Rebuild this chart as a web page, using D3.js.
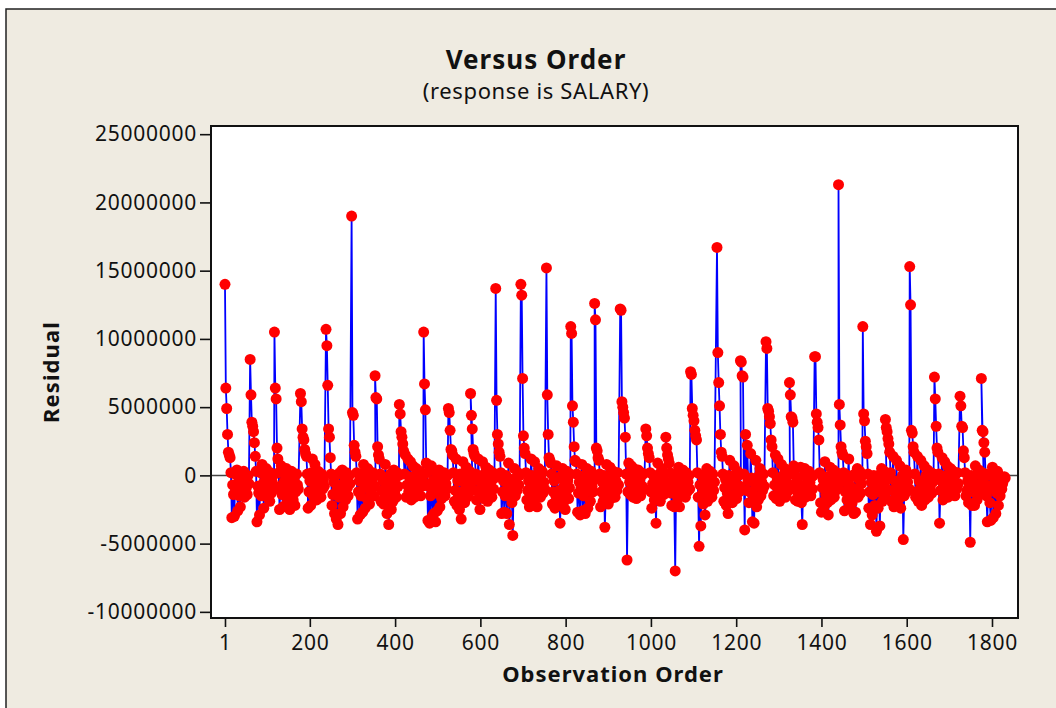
<!DOCTYPE html>
<html><head><meta charset="utf-8">
<script src="https://cdn.jsdelivr.net/npm/d3@7/dist/d3.min.js"></script>
<style>html,body{margin:0;padding:0;background:#fff;overflow:hidden}svg{display:block}text{font-family:"Noto Sans",Tahoma,sans-serif;fill:#111}</style>
</head><body><svg id="c" width="1056" height="708"></svg>
<script>
const yTicks = [25000000,20000000,15000000,10000000,5000000,0,-5000000,-10000000];
const xTicks = [1,200,400,600,800,1000,1200,1400,1600,1800];
const titleText = "Versus Order";
const subtitleText = "(response is SALARY)";
const xLabel = "Observation Order";
const yLabel = "Residual";
// Observation at which each repeating block of the series starts
const blockStarts = [1,60,117,178,238,298,353,410,467,525,577,636,695,755,812,868,928,988,1035,1093,1155,1210,1270,1325,1384,1440,1497,1550,1607,1665,1725,1775];
// Every second observation
const readEvery = 2;
// Residuals, in millions
const blockResiduals = [
[14.0,6.4,4.9,3.0,1.7,1.5,1.3,0.2,-3.1,-0.7,-1.4,-3.0,0.1,-1.1,0.4,-2.6,-0.5,-1.5,-2.3,0.1,-1.2,-0.6,0.3,-1.6,-0.2,-0.9,-1.4,0.0,-0.6],
[8.5,5.9,3.9,3.6,3.2,2.4,1.4,0.3,-3.4,-0.8,-1.3,-2.9,0.2,-1.5,0.8,-0.6,-2.4,0.0,-1.1,0.5,-1.6,-0.3,-0.9,-1.9,0.2,-1.3,-0.5,0.0,-1.0],
[10.5,6.4,5.6,2.0,1.2,0.2,-2.5,-0.8,0.7,-1.4,-2.3,-0.5,0.1,-1.1,0.5,-2.0,-0.4,-1.4,-2.5,0.0,0.3,-0.9,-1.8,-0.3,-2.2,-1.2,0.1,-0.7,-1.0],
[6.0,5.4,3.4,2.8,2.6,1.9,1.6,1.4,0.1,-2.4,-1.2,-0.4,-2.2,0.2,1.2,-1.5,-0.6,0.8,-1.1,-1.8,0.0,0.3,-1.3,-0.5,-1.6,0.1,-1.0,-0.3,-0.8],
[10.7,9.5,6.6,3.4,2.8,1.3,0.1,-2.2,-1.4,-0.5,-2.8,0.0,-3.2,-1.0,-3.6,-1.6,0.2,-2.8,-0.7,0.4,-2.3,-1.3,-0.2,-1.8,0.2,-0.9,-1.5,0.0,-0.6],
[19.0,4.6,4.4,2.2,1.7,1.4,0.2,-3.2,-1.2,-0.4,-2.9,-1.5,0.1,-2.7,0.8,-0.9,-2.4,-0.2,-1.7,0.5,-0.7,-2.1,0.0,-1.3,-0.5,0.2,-1.5,-0.8,0.0],
[7.3,5.7,5.6,2.1,1.5,1.2,0.1,-1.9,-1.1,-0.4,-2.1,-1.4,0.8,-0.2,-2.8,-0.9,-3.6,-1.5,0.1,-2.5,-0.6,-1.9,0.4,-1.2,-0.2,-1.6,0.2,-0.8,0.0],
[5.2,4.5,3.2,2.8,2.3,1.8,0.1,1.5,-1.6,-0.7,1.2,-1.2,-0.1,1.0,-1.8,-0.6,0.7,-1.1,-1.6,0.0,0.5,-1.3,-0.7,0.1,0.3,-1.5,-0.8,-0.2,-0.5],
[10.5,6.7,4.8,0.9,0.2,-3.3,-0.8,-3.5,-1.5,0.7,-3.0,-0.4,-2.8,-1.3,-3.4,0.1,-2.6,-1.0,0.4,-2.3,-0.5,-1.7,0.1,-1.2,0.2,-1.5,-0.6,-1.0,0.0],
[4.9,4.6,3.3,1.9,1.8,1.5,0.2,-1.9,-1.1,1.2,-2.2,-0.4,-1.5,-2.5,0.1,-3.2,-1.2,1.0,-0.5,-2.0,-1.0,0.6,-1.6,0.0,-1.3,0.3,-0.7,-1.1,-0.1],
[6.0,4.4,3.4,1.9,1.6,1.4,0.1,-1.8,-1.1,1.2,-0.4,-2.5,-1.4,0.0,1.0,-1.7,-0.6,-1.2,0.6,-0.8,-1.9,0.1,0.4,-1.3,-0.5,-1.6,0.2,-1.0,-0.2],
[13.7,5.5,3.0,2.3,1.7,1.4,0.2,-2.8,-1.2,-0.4,-2.7,-1.5,0.0,-2.8,-0.9,0.9,-3.6,-1.3,-0.3,-2.0,-4.4,-0.8,0.5,-1.5,-0.2,-1.1,0.2,-0.7,0.0],
[14.0,13.2,7.1,2.9,2.0,1.6,0.2,-1.8,-1.1,-0.4,-2.3,-1.4,1.2,0.0,-2.2,-0.8,1.0,-1.7,-0.3,-2.3,-1.2,0.5,-0.7,-1.6,0.1,0.3,-1.3,-0.5,-1.0],
[15.2,5.9,3.0,1.3,1.1,0.9,0.1,-2.1,-1.2,-0.4,-2.4,-1.5,0.7,-0.2,-2.2,-1.1,-3.5,-1.4,0.0,0.5,-2.0,-0.7,-2.5,-1.3,0.3,-0.4,-1.7,-0.9,0.1],
[10.9,10.4,5.1,3.9,2.1,1.1,1.0,0.1,-2.7,-1.3,-0.5,-2.9,-0.9,0.8,-2.6,-1.5,0.0,-2.8,-0.6,0.5,-2.4,-1.1,0.1,-1.9,0.3,-0.8,-1.2,-0.3,0.0],
[12.6,11.4,2.0,1.8,1.3,1.1,0.1,-2.3,-1.2,-0.5,-1.9,0.0,-3.8,-1.4,0.8,-0.7,-2.1,-0.2,0.6,-1.7,-1.0,0.1,0.3,-0.9,-1.6,-0.4,-1.1,0.2,-0.7],
[12.2,12.1,5.4,5.0,4.6,4.2,2.8,0.1,-6.2,-1.2,0.9,-0.5,-1.4,0.7,-0.2,-1.6,0.5,-1.0,0.0,-1.7,-0.6,0.4,-1.2,-0.3,-1.5,0.2,-0.8,0.1,-1.0],
[3.4,2.9,2.0,1.6,1.3,0.2,-1.2,-2.4,-0.6,0.0,-1.8,-1.1,-3.5,-0.4,0.9,-1.5,0.1,-1.9,-0.8,0.5,-0.3,-1.4,0.1,-1.0,-0.5],
[2.8,2.0,1.5,1.2,0.9,0.2,-1.3,-2.2,-0.6,0.0,-2.3,-7.0,-1.1,-0.3,-1.7,0.6,-2.3,-0.7,0.1,-1.4,0.4,-0.9,-0.2,-1.6,0.2,-1.2,-0.5,0.0,-1.0],
[7.6,7.4,4.9,4.4,4.0,3.3,2.9,2.6,0.2,-1.6,-5.2,-0.7,-3.7,0.0,-1.3,-2.1,-0.4,-2.9,-1.1,0.5,-1.9,-0.2,-1.4,0.3,-0.8,-1.6,0.1,-1.1,-0.5],
[16.7,9.0,6.8,5.1,3.0,1.7,1.4,0.1,-1.9,-0.9,-0.3,-2.2,-1.3,-2.8,0.0,1.1,-1.8,-0.7,-2.0,-0.2,0.7,-1.4,-0.6,-1.7,0.3,0.0,-1.2,-0.8,0.1],
[8.4,8.3,7.3,7.2,0.1,-4.0,3.0,-1.1,2.2,-0.4,-2.0,-1.2,1.6,-0.2,-3.4,-1.4,-3.5,-0.6,1.1,-2.3,-0.8,-1.8,0.0,0.5,-1.5,-0.5,-1.1,0.1,-0.8],
[9.8,9.3,4.9,4.7,4.3,3.8,2.6,2.1,0.2,-1.5,-0.7,1.5,-1.7,-0.2,1.2,-1.1,-1.9,-0.5,0.8,-1.4,0.0,-0.9,0.5,-1.6,-0.4,-1.2,0.2,-0.7,0.1],
[6.8,5.9,4.3,4.2,3.9,0.7,0.1,-1.8,-1.1,-0.4,-1.9,-0.7,-1.4,0.6,-2.0,-3.6,-0.9,0.0,0.5,-1.6,-0.6,0.1,-1.3,0.3,-0.5,-1.5,-0.1,-1.0,0.0],
[8.7,8.7,4.5,3.9,3.5,2.6,0.2,-2.0,-2.7,-0.9,-0.3,-2.3,1.0,-1.4,-0.1,-2.0,-2.9,-0.7,0.6,-1.8,0.0,-1.2,0.4,-1.6,-0.5,-1.1,0.2,-0.3,-0.9],
[21.3,5.2,3.7,2.1,1.7,1.5,0.2,-2.6,-1.2,-0.5,-1.8,0.0,1.2,-2.2,-0.8,-0.1,-2.0,-1.4,-2.8,0.1,-2.7,-1.0,0.5,-1.6,-0.3,0.3,-1.3,-0.6,0.0],
[10.9,4.5,4.0,2.5,2.1,1.6,0.1,-2.4,-1.2,-3.6,-0.5,-2.9,-1.4,0.0,-2.2,-0.9,-4.1,-0.2,-2.4,-1.2,-3.7,0.1,0.5,-1.9,-0.7,0.3,-1.5,-0.4,-1.0],
[4.1,3.5,3.2,2.7,2.3,1.7,0.2,-1.9,-1.1,1.4,-2.3,-0.4,-1.3,1.1,-2.2,-0.6,-1.7,0.7,-2.4,-0.9,0.0,-4.7,-1.5,-0.2,0.4,-1.2,-0.5,0.1,-1.0],
[15.3,12.5,3.3,3.1,2.1,1.7,0.1,-1.6,-1.2,1.4,-1.9,-0.4,-1.0,1.1,-2.2,-0.6,-1.4,0.7,-1.8,0.0,-1.1,0.4,-1.6,-0.3,-0.9,0.2,-1.3,-0.5,0.1],
[7.2,5.6,3.6,2.0,1.7,0.1,-3.5,-1.1,-0.4,1.3,-1.8,-0.7,1.0,-1.4,0.0,0.7,-1.6,-0.5,-1.1,0.5,-0.2,-1.3,0.3,-0.8,-1.5,0.1,-1.0,0.2,-0.6],
[5.8,5.1,3.6,3.5,1.8,1.3,0.2,-1.5,-1.1,-0.4,-2.0,-0.8,-4.9,0.0,-2.2,-0.5,-1.2,-2.2,0.7,-0.9,-1.8,0.1,0.4,-1.4,-0.6,-1.1,0.2,-0.3,-0.9],
[7.1,3.3,3.2,2.4,1.7,0.1,-1.5,-3.4,-0.8,0.0,-2.0,-3.3,-1.0,0.6,-3.1,-0.6,0.1,-2.8,-1.3,0.3,-2.2,-0.7,-1.5,-0.2,-1.0,-0.6,-0.3,-0.1,-0.2]
];

const W = 1056, H = 708;
const plot = {left:211, right:1018, top:126, bottom:618};
const svg = d3.select("#c");

// Build the series from the arrays above
const series = [];
blockResiduals.forEach((vals,b) => vals.forEach((v,i) => series.push({obs: blockStarts[b] + i*readEvery, res: v*1e6})));

const x = d3.scaleLinear().domain([-31.8,1861]).range([plot.left,plot.right]);
const y = d3.scaleLinear().domain([-10.45e6,25.6e6]).range([plot.bottom,plot.top]);

// outer panel
svg.append("rect").attr("x",6).attr("y",9).attr("width",W+20).attr("height",H+20)
  .attr("fill","#efebe1").attr("stroke","#222").attr("stroke-width",1.5);
svg.append("rect").attr("x",plot.left).attr("y",plot.top).attr("width",plot.right-plot.left).attr("height",plot.bottom-plot.top).attr("fill","#fff");

// zero reference
svg.append("line").attr("x1",plot.left).attr("x2",plot.right).attr("y1",y(0)).attr("y2",y(0)).attr("stroke","#444").attr("stroke-width",1.5);

// series
svg.append("path").datum(series)
  .attr("fill","none").attr("stroke","#0000ff").attr("stroke-width",1.8)
  .attr("d", d3.line().x(d=>x(d.obs)).y(d=>y(d.res)));
svg.append("g").selectAll("circle").data(series).join("circle")
  .attr("cx",d=>x(d.obs)).attr("cy",d=>y(d.res)).attr("r",5.5).attr("fill","#ff0000");

// frame and axes
svg.append("rect").attr("x",plot.left).attr("y",plot.top).attr("width",plot.right-plot.left).attr("height",plot.bottom-plot.top)
  .attr("fill","none").attr("stroke","#111").attr("stroke-width",2);

const gy = svg.append("g").attr("transform",`translate(${plot.left},0)`)
  .call(d3.axisLeft(y).tickValues(yTicks).tickFormat(d=>String(d)).tickSize(11).tickPadding(3));
const gx = svg.append("g").attr("transform",`translate(0,${plot.bottom})`)
  .call(d3.axisBottom(x).tickValues(xTicks).tickFormat(d=>String(d)).tickSize(9).tickPadding(8));
[gy,gx].forEach(g=>{
  g.select(".domain").remove();
  g.selectAll("line").attr("stroke","#111").attr("stroke-width",1.6);
  g.selectAll("text").attr("font-size",21).attr("fill","#111").attr("letter-spacing",0.75);
});

svg.append("text").attr("x",536).attr("y",69).attr("text-anchor","middle").attr("font-size",26).attr("letter-spacing",1).attr("font-weight",700).text(titleText);
svg.append("text").attr("x",536).attr("y",99).attr("text-anchor","middle").attr("font-size",22).attr("letter-spacing",0.65).text(subtitleText);
svg.append("text").attr("x",613).attr("y",682).attr("text-anchor","middle").attr("font-size",22).attr("letter-spacing",1).attr("font-weight",700).text(xLabel);
svg.append("text").attr("transform","translate(59,372) rotate(-90)").attr("text-anchor","middle").attr("font-size",22).attr("letter-spacing",1.1).attr("font-weight",700).text(yLabel);
</script></body></html>
